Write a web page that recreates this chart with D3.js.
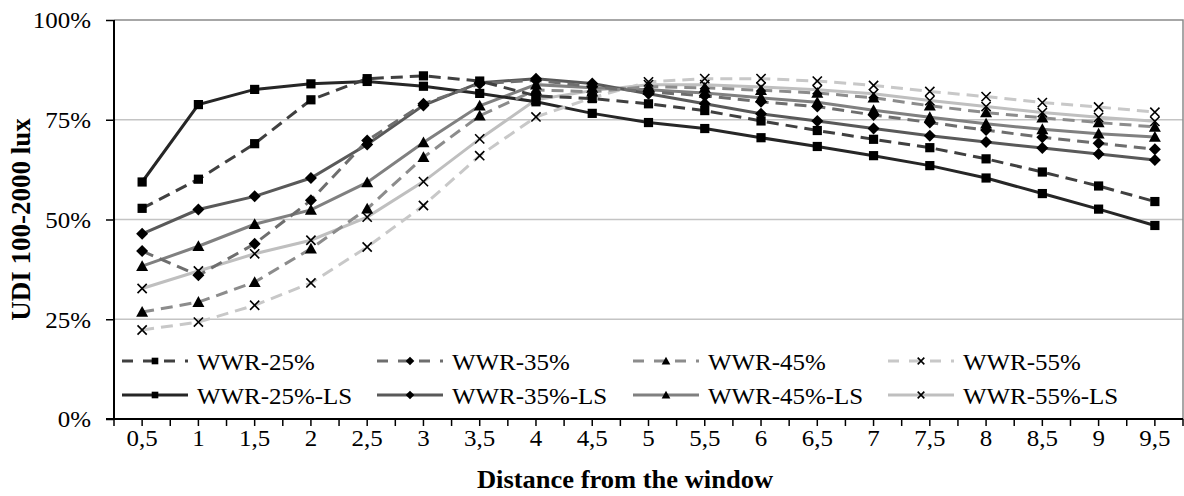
<!DOCTYPE html>
<html>
<head>
<meta charset="utf-8">
<script src="https://cdn.jsdelivr.net/npm/d3@7"></script>
<style>
	body { margin: 0; background: #fff; }
	svg { display: block; }
</style>
</head>
<body>
<svg id="chart"></svg>
<script>
// distance from the window (m)
const distances = ["0,5", "1", "1,5", "2", "2,5", "3", "3,5", "4", "4,5", "5", "5,5", "6", "6,5", "7", "7,5", "8", "8,5", "9", "9,5"];

const yTicks = [0, 25, 50, 75, 100];

const seriesNames = ["WWR-25%", "WWR-35%", "WWR-45%", "WWR-55%", "WWR-25%-LS", "WWR-35%-LS", "WWR-45%-LS", "WWR-55%-LS"];

// UDI 100-2000 lux (%)
const wwr25 = [52.8, 60.1, 69.0, 80.0, 85.3, 86.0, 84.7, 81.0, 80.3, 79.0, 77.3, 74.7, 72.3, 70.1, 68.0, 65.2, 61.9, 58.4, 54.5];
const wwr35 = [42.1, 36.0, 43.9, 54.8, 69.8, 79.0, 84.0, 84.9, 83.3, 82.0, 81.0, 79.5, 78.3, 76.2, 74.3, 72.4, 70.6, 69.1, 67.6];
const wwr45 = [26.8, 29.3, 34.3, 42.7, 52.7, 65.6, 76.0, 82.5, 82.0, 83.3, 83.0, 82.4, 81.7, 80.5, 78.5, 76.8, 75.5, 74.3, 73.2];
const wwr55 = [22.3, 24.3, 28.5, 34.1, 43.1, 53.5, 66.0, 75.7, 80.5, 84.5, 85.3, 85.3, 84.7, 83.6, 82.1, 80.8, 79.3, 78.2, 76.9];
const wwr25ls = [59.4, 78.8, 82.6, 84.0, 84.6, 83.4, 81.6, 79.5, 76.6, 74.3, 72.8, 70.5, 68.3, 66.0, 63.5, 60.4, 56.5, 52.6, 48.5];
const wwr35ls = [46.4, 52.5, 55.8, 60.4, 68.8, 78.6, 84.3, 85.3, 84.1, 81.5, 79.0, 76.5, 74.7, 72.8, 71.0, 69.4, 67.9, 66.4, 64.9];
const wwr45ls = [38.3, 43.3, 48.8, 52.4, 59.3, 69.3, 78.5, 83.8, 83.0, 82.5, 81.7, 80.5, 79.4, 77.4, 75.6, 74.0, 72.6, 71.5, 70.7];
const wwr55ls = [32.7, 37.1, 41.4, 44.8, 50.6, 59.5, 70.2, 80.0, 82.3, 83.8, 83.8, 83.2, 82.5, 81.5, 79.8, 78.3, 76.8, 75.6, 74.6];

const seriesValues = [wwr25, wwr35, wwr45, wwr55, wwr25ls, wwr35ls, wwr45ls, wwr55ls];

class LineChart {
	constructor(_config) {
		this.config = {
			parentElement: _config.parentElement,
			containerWidth: _config.containerWidth || 1184,
			containerHeight: _config.containerHeight || 496,
			margin: {top: 20, bottom: 77, right: 1, left: 114}
		}

		this.data = seriesNames.map((name, i) => ({
			name: name,
			values: seriesValues[i].map((v, j) => ({cat: distances[j], value: v}))
		}));

		this.initVis();
	}

	initVis() {
		let vis = this;

		vis.width = vis.config.containerWidth - vis.config.margin.left - vis.config.margin.right;
		vis.height = vis.config.containerHeight - vis.config.margin.top - vis.config.margin.bottom;

		vis.font = "'Liberation Serif', 'Times New Roman', serif";
		vis.sx = 1.04;

		vis.svg = d3.select(vis.config.parentElement)
			.attr("width", vis.config.containerWidth)
			.attr("height", vis.config.containerHeight);

		vis.chart = vis.svg.append("g")
			.attr("transform", `translate(${vis.config.margin.left},${vis.config.margin.top})`);

		vis.xScale = d3.scaleBand()
			.domain(distances)
			.range([0, vis.width])
			.padding(0);

		vis.yScale = d3.scaleLinear()
			.domain([0, 100])
			.range([vis.height, 0]);

		// colours / dash / marker per series
		vis.colorScale = d3.scaleOrdinal()
			.domain(seriesNames)
			.range(['#404040', '#6e6e6e', '#8c8c8c', '#c8c8c8', '#262626', '#595959', '#808080', '#bfbfbf']);

		vis.dashScale = d3.scaleOrdinal()
			.domain(seriesNames)
			.range(['12,7', '12,7', '12,7', '12,7', null, null, null, null]);

		vis.symbolScale = d3.scaleOrdinal()
			.domain(seriesNames)
			.range(['square', 'diamond', 'triangle', 'times', 'square', 'diamond', 'triangle', 'times']);

		vis.updateVis();
	}

	marker(sel, type, k) {
		let vis = this;
		let p;
		if (type === 'times') {
			let r = 4.6 * k;
			sel.append("path")
				.attr("d", `M${-r},${-r}L${r},${r}M${-r},${r}L${r},${-r}`)
				.attr("stroke", "black")
				.attr("stroke-width", 1.6)
				.attr("fill", "none");
			return;
		}
		if (type === 'square') {
			let r = 4.6 * k;
			p = `M${-r},${-r}H${r}V${r}H${-r}Z`;
		} else if (type === 'diamond') {
			let r = 6 * k;
			p = `M0,${-r}L${r},0L0,${r}L${-r},0Z`;
		} else {
			let r = 6 * k;
			p = `M0,${-r}L${r},${r * 0.8}L${-r},${r * 0.8}Z`;
		}
		sel.append("path")
			.attr("d", p)
			.attr("fill", "black");
	}

	label(g, x, y, txt, opts) {
		let vis = this;
		opts = opts || {};
		return g.append("text")
			.attr("transform", `translate(${x},${y}) scale(${opts.sx || vis.sx},1)`)
			.attr("text-anchor", opts.anchor || "start")
			.attr("dominant-baseline", "central")
			.attr("font-family", vis.font)
			.attr("font-size", opts.size || 24)
			.attr("font-weight", opts.bold ? "bold" : "normal")
			.attr("fill", "black")
			.text(txt);
	}

	updateVis() {
		let vis = this;

		// grid lines
		vis.chart.append("g")
			.selectAll("line")
			.data(yTicks.filter(d => d > 0 && d < 100))
			.join("line")
			.attr("x1", 0)
			.attr("x2", vis.width)
			.attr("y1", d => vis.yScale(d))
			.attr("y2", d => vis.yScale(d))
			.attr("stroke", "#c4c4c4")
			.attr("stroke-width", 1.5);

		// plot border (top / right)
		vis.chart.append("path")
			.attr("d", `M0,${vis.yScale(100)}H${vis.width}V${vis.height}`)
			.attr("fill", "none")
			.attr("stroke", "#8a8a8a")
			.attr("stroke-width", 1.5);

		// y axis
		let yAxis = d3.axisLeft(vis.yScale)
			.tickValues(yTicks)
			.tickSize(8)
			.tickFormat("");
		let yAxisG = vis.chart.append("g").call(yAxis);
		yAxisG.select(".domain").attr("stroke", "black").attr("stroke-width", 2).attr("d", `M0,0V${vis.height}`);
		yAxisG.selectAll(".tick line").attr("stroke", "black").attr("stroke-width", 1.5);

		yTicks.forEach(t => {
			vis.label(vis.chart, -23, vis.yScale(t), t + "%", {anchor: "end"});
		});

		// x axis : ticks at every band edge and band centre
		let halfTicks = d3.range(0, distances.length * 2 + 1).map(i => i * vis.xScale.bandwidth() / 2);
		let xAxisG = vis.chart.append("g")
			.attr("transform", `translate(0,${vis.height})`);
		xAxisG.selectAll("line")
			.data(halfTicks)
			.join("line")
			.attr("x1", d => d)
			.attr("x2", d => d)
			.attr("y1", 0)
			.attr("y2", 7)
			.attr("stroke", "black")
			.attr("stroke-width", 1.5);
		xAxisG.append("line")
			.attr("x1", -8)
			.attr("x2", vis.width)
			.attr("stroke", "black")
			.attr("stroke-width", 2);

		distances.forEach(c => {
			vis.label(xAxisG, vis.xScale(c) + vis.xScale.bandwidth() / 2, 19, c, {anchor: "middle"});
		});

		// axis titles
		vis.label(vis.svg, 625, 480, "Distance from the window", {anchor: "middle", bold: true, size: 25.5});
		vis.svg.append("text")
			.attr("transform", `translate(21,${vis.config.margin.top + vis.height / 2}) rotate(-90)`)
			.attr("text-anchor", "middle")
			.attr("dominant-baseline", "central")
			.attr("font-family", vis.font)
			.attr("font-size", 27)
			.attr("font-weight", "bold")
			.text("UDI 100-2000 lux");

		// lines
		vis.line = d3.line()
			.x(d => vis.xScale(d.cat) + vis.xScale.bandwidth() / 2)
			.y(d => vis.yScale(d.value));

		// light series first so the dark ones sit on top
		let order = vis.data.slice().reverse();

		vis.chart.append("g")
			.selectAll("path")
			.data(order)
			.join("path")
			.attr("d", d => vis.line(d.values))
			.attr("fill", "none")
			.attr("stroke", d => vis.colorScale(d.name))
			.attr("stroke-width", 3)
			.attr("stroke-dasharray", d => vis.dashScale(d.name));

		let markerG = vis.chart.append("g");
		order.forEach(s => {
			markerG.selectAll(null)
				.data(s.values)
				.join("g")
				.attr("transform", d => `translate(${vis.xScale(d.cat) + vis.xScale.bandwidth() / 2},${vis.yScale(d.value)})`)
				.each(function() { vis.marker(d3.select(this), vis.symbolScale(s.name), 1); });
		});

		// legend
		let legendX = [8, 263, 519, 774];
		let legendY = [341, 375];
		let legend = vis.chart.append("g");
		vis.data.forEach((s, i) => {
			let col = i % 4;
			let row = Math.floor(i / 4);
			let g = legend.append("g")
				.attr("transform", `translate(${legendX[col]},${legendY[row]})`);
			g.append("line")
				.attr("x1", 0)
				.attr("x2", 66)
				.attr("stroke", vis.colorScale(s.name))
				.attr("stroke-width", 3)
				.attr("stroke-dasharray", vis.dashScale(s.name) ? "11,10" : null);
			let m = g.append("g").attr("transform", "translate(33,0)");
			vis.marker(m, vis.symbolScale(s.name), 0.72);
			vis.label(g, 75, 1, s.name);
		});
	}
}

let chart = new LineChart({parentElement: "#chart"});
</script>
</body>
</html>
